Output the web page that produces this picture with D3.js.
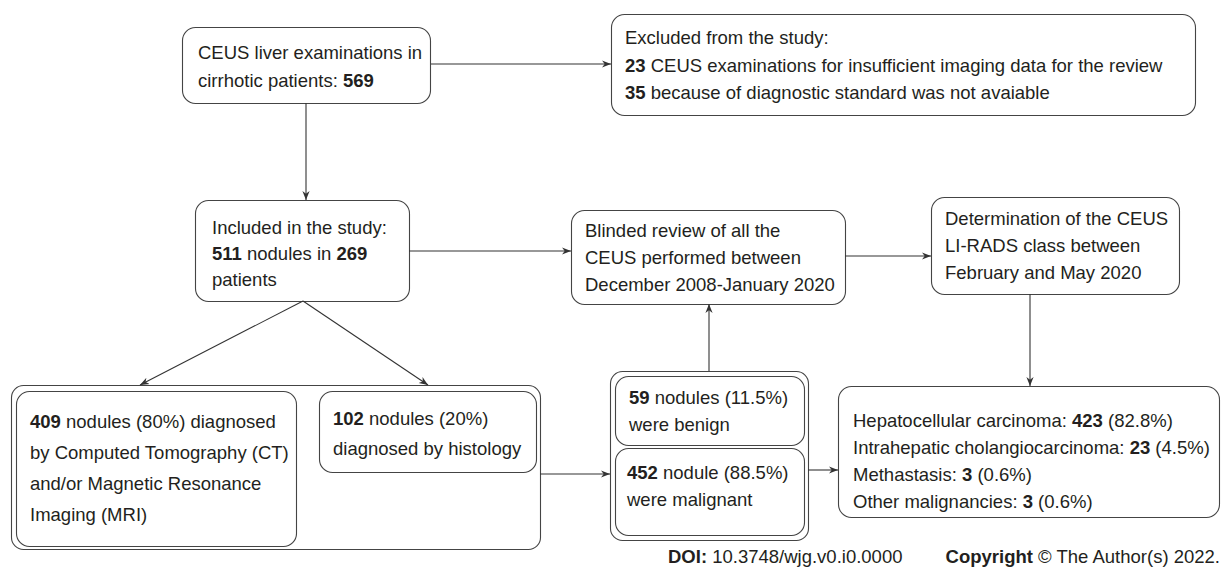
<!DOCTYPE html>
<html>
<head>
<meta charset="utf-8">
<script src="https://cdn.jsdelivr.net/npm/d3@7"></script>
<style>
  body { margin: 0; background: #fff; }
  text { font-family: "Liberation Sans", Arial, sans-serif; fill: #231f20; }
</style>
</head>
<body>
<svg id="chart" width="1222" height="569"></svg>
<script>
// flowchart texts, numbers between ** are bold
var screeningLines = ["CEUS liver examinations in", "cirrhotic patients: **569**"];
var excludedLines = ["Excluded from the study:",
  "**23** CEUS examinations for insufficient imaging data for the review",
  "**35** because of diagnostic standard was not avaiable"];
var includedLines = ["Included in the study:", "**511** nodules in **269**", "patients"];
var reviewLines = ["Blinded review of all the", "CEUS performed between", "December 2008-January 2020"];
var liradsLines = ["Determination of the CEUS", "LI-RADS class between", "February and May 2020"];
var imagingLines = ["**409** nodules (80%) diagnosed", "by Computed Tomography (CT)",
  "and/or Magnetic Resonance", "Imaging (MRI)"];
var histologyLines = ["**102** nodules (20%)", "diagnosed by histology"];
var benignLines = ["**59** nodules (11.5%)", "were benign"];
var malignantLines = ["**452** nodule (88.5%)", "were malignant"];
var diagnosisLines = ["Hepatocellular carcinoma: **423** (82.8%)",
  "Intrahepatic cholangiocarcinoma: **23** (4.5%)",
  "Methastasis: **3** (0.6%)",
  "Other malignancies: **3** (0.6%)"];
var doiLine = "**DOI:** 10.3748/wjg.v0.i0.0000";
var copyrightLine = "**Copyright** © The Author(s) 2022.";

var svg = d3.select("#chart");

svg.append("defs").append("marker")
    .attr("id", "arrow")
    .attr("viewBox", "0 0 10 10")
    .attr("refX", 10).attr("refY", 5)
    .attr("markerWidth", 9).attr("markerHeight", 9)
    .attr("markerUnits", "userSpaceOnUse")
    .attr("orient", "auto")
  .append("path")
    .attr("d", "M0,1 L10,5 L0,9 L3,5 Z")
    .style("fill", "#333");

// plain containers (no text)
var frames = [
  { x: 11, y: 385, w: 529, h: 164 },
  { x: 610, y: 371, w: 198, h: 169 }
];

// boxes with text
var boxes = [
  { lines: screeningLines, x: 182, y: 27, w: 248, h: 76, tx: 198, ty: 59, dy: 27.5 },
  { lines: excludedLines, x: 611, y: 14, w: 584, h: 101, tx: 625, ty: 44, dy: 27.5 },
  { lines: includedLines, x: 195, y: 200, w: 214, h: 101, tx: 212, ty: 234, dy: 26 },
  { lines: reviewLines, x: 571, y: 210, w: 274, h: 94, tx: 585, ty: 237, dy: 27 },
  { lines: liradsLines, x: 931, y: 197, w: 248, h: 97, tx: 945, ty: 225, dy: 27 },
  { lines: imagingLines, x: 16, y: 391, w: 280, h: 155, tx: 30, ty: 428, dy: 31 },
  { lines: histologyLines, x: 319, y: 391, w: 217, h: 81, tx: 333, ty: 425, dy: 30 },
  { lines: benignLines, x: 615, y: 376, w: 189, h: 69, tx: 629, ty: 404, dy: 27 },
  { lines: malignantLines, x: 615, y: 448, w: 189, h: 87, tx: 627, ty: 479, dy: 27 },
  { lines: diagnosisLines, x: 838, y: 386, w: 381, h: 131, tx: 853, ty: 427, dy: 27 }
];

var arrows = [
  [431, 64, 611, 64],
  [306, 103, 306, 200],
  [409, 251, 571, 251],
  [845, 256, 931, 256],
  [1030, 294, 1030, 386],
  [303, 301, 140, 385],
  [303, 301, 428, 385],
  [540, 474, 610, 474],
  [709, 371, 709, 304],
  [808, 470, 838, 470]
];

function addLine(sel, str) {
  // split "**bold** normal" into tspans
  str.split(/(\*\*[^*]+\*\*)/).filter(function(s){ return s.length; }).forEach(function(part){
    var bold = part.indexOf("**") === 0;
    sel.append("tspan")
      .style("font-weight", bold ? "bold" : "normal")
      .text(bold ? part.slice(2, -2) : part);
  });
}

svg.selectAll("rect.frame")
  .data(frames)
  .enter()
  .append("rect")
    .attr("class", "frame")
    .attr("x", function(d){ return d.x + 0.5; })
    .attr("y", function(d){ return d.y + 0.5; })
    .attr("width", function(d){ return d.w; })
    .attr("height", function(d){ return d.h; })
    .attr("rx", 12)
    .style("fill", "none")
    .style("stroke", "#444")
    .style("stroke-width", 1.1);

var g = svg.selectAll("g.box")
  .data(boxes)
  .enter()
  .append("g")
    .attr("class", "box");

g.append("rect")
    .attr("x", function(d){ return d.x + 0.5; })
    .attr("y", function(d){ return d.y + 0.5; })
    .attr("width", function(d){ return d.w; })
    .attr("height", function(d){ return d.h; })
    .attr("rx", 13)
    .style("fill", "#fff")
    .style("stroke", "#444")
    .style("stroke-width", 1.1);

g.each(function(d){
  var box = d3.select(this);
  d.lines.forEach(function(line, i){
    var t = box.append("text")
      .attr("x", d.tx)
      .attr("y", d.ty + i * d.dy)
      .style("font-size", "18.5px");
    addLine(t, line);
  });
});

svg.selectAll("line.arrow")
  .data(arrows)
  .enter()
  .append("line")
    .attr("class", "arrow")
    .attr("x1", function(d){ return d[0]; })
    .attr("y1", function(d){ return d[1]; })
    .attr("x2", function(d){ return d[2]; })
    .attr("y2", function(d){ return d[3]; })
    .style("stroke", "#333")
    .style("stroke-width", 1.1)
    .attr("marker-end", "url(#arrow)");

// footer
var doi = svg.append("text")
    .attr("x", 668).attr("y", 563)
    .style("font-size", "18.5px");
addLine(doi, doiLine);
var copy = svg.append("text")
    .attr("x", 1220).attr("y", 563)
    .attr("text-anchor", "end")
    .style("font-size", "18.5px");
addLine(copy, copyrightLine);
</script>
</body>
</html>
